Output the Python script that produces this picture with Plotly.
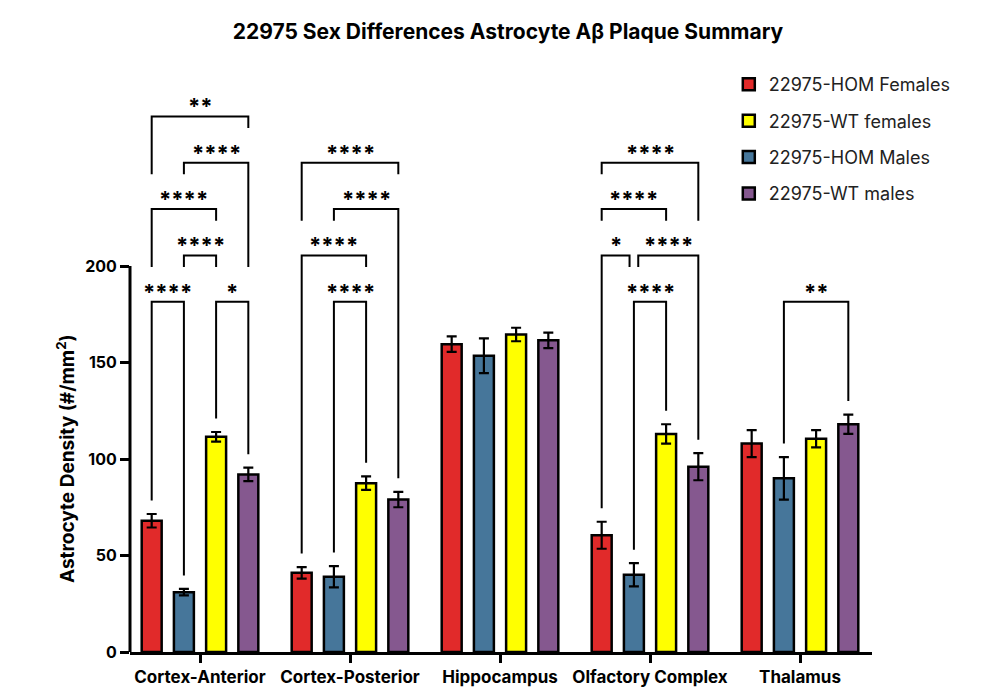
import plotly.graph_objects as go

regions = ["Cortex-Anterior", "Cortex-Posterior", "Hippocampus", "Olfactory Complex", "Thalamus"]
groups = ["22975-HOM Females", "22975-HOM Males", "22975-WT females", "22975-WT males"]

hom_f = [68, 41, 159.5, 60.5, 108]
hom_f_err = [3.5, 3, 4, 7, 7]
hom_m = [31, 39, 153.5, 40, 90]
hom_m_err = [1.7, 5.5, 9, 6, 11]
wt_f = [111.5, 87.5, 164.5, 113, 110.5]
wt_f_err = [2.5, 3.5, 3.5, 5, 4.5]
wt_m = [92, 79, 161.5, 96, 118]
wt_m_err = [3.5, 4, 4, 7, 5]

# multiple comparisons: region, bar a, bar b, stars, bracket level (0 = lowest)
comparisons = [
    (0, 0, 1, "****", 0), (0, 2, 3, "*", 0), (0, 1, 2, "****", 1),
    (0, 0, 2, "****", 2), (0, 1, 3, "****", 3), (0, 0, 3, "**", 4),
    (1, 1, 2, "****", 0), (1, 0, 2, "****", 1), (1, 1, 3, "****", 2), (1, 0, 3, "****", 3),
    (3, 1, 2, "****", 0), (3, 0, 1, "*", 1), (3, 1, 3, "****", 1),
    (3, 0, 2, "****", 2), (3, 0, 3, "****", 3),
    (4, 1, 3, "**", 0),
]

vals = [hom_f, hom_m, wt_f, wt_m]
errs = [hom_f_err, hom_m_err, wt_f_err, wt_m_err]
colors = ["#E12A2A", "#46769A", "#FFFF00", "#85588F"]
legend_rank = [1, 3, 2, 4]

BARGAP = 0.141
SLOT = (1 - BARGAP) / 4
LEVEL0 = 181.5
STEP = 24
LEG = 6
GAP = 7
NUDGE = 0.029

fig = go.Figure()
for k in range(4):
    fig.add_trace(go.Bar(
        x=list(range(len(regions))), y=vals[k], name=groups[k],
        marker=dict(color=colors[k], line=dict(color="black", width=2.5)),
        error_y=dict(type="data", array=errs[k], color="black", thickness=2.2, width=5),
        legendrank=legend_rank[k], legendgroup=groups[k],
    ))


def bar_x(r, k):
    return r + (k - 1.5) * SLOT


def leg_bottom(r, k, lvl):
    below = [LEVEL0 + c[4] * STEP + STEP - LEG for c in comparisons
             if c[0] == r and c[4] < lvl and c[1] <= k <= c[2]]
    if below:
        return max(below)
    return vals[k][r] + errs[k][r] + GAP


bx, by = [], []
for r, a, b, stars, lvl in comparisons:
    top = LEVEL0 + lvl * STEP
    xa, xb = bar_x(r, a), bar_x(r, b)
    for c in comparisons:
        if c[0] == r and c[4] == lvl:
            if c[1] == b and c[2] != b:
                xb -= NUDGE
            if c[2] == a and c[1] != a:
                xa += NUDGE
    bx += [xa, xa, xb, xb, None]
    by += [leg_bottom(r, a, lvl), top, top, leg_bottom(r, b, lvl), None]
    fig.add_annotation(x=(xa + xb) / 2, y=top, text=stars, showarrow=False,
                       yanchor="bottom", yshift=-5,
                       font=dict(family="Inter", size=22, color="black", weight="bold"))

fig.add_trace(go.Scatter(x=bx, y=by, mode="lines", line=dict(color="black", width=2),
                         showlegend=False, hoverinfo="skip"))

# y axis only runs up to 200, the brackets sit above it
fig.add_shape(type="line", xref="paper", yref="y", x0=0, x1=0, y0=0, y1=200,
              line=dict(color="black", width=3))
fig.add_annotation(xref="paper", yref="y", x=0, y=100, xanchor="center", yanchor="middle",
                   xshift=-64, textangle=-90, showarrow=False,
                   text="Astrocyte Density (#/mm<sup>2</sup>)",
                   font=dict(family="Inter", size=19, weight="bold", color="black"))

fig.update_layout(
    width=1000, height=700,
    paper_bgcolor="white", plot_bgcolor="white",
    barmode="group", bargap=BARGAP, bargroupgap=0.38,
    margin=dict(l=122, r=136, t=65, b=56),
    font=dict(family="Inter", color="black"),
    title=dict(text="22975 Sex Differences Astrocyte A\u03b2 Plaque Summary",
               x=0.5, xanchor="center", y=0.966, yref="container", yanchor="middle",
               font=dict(size=21, weight="bold", color="black")),
    legend=dict(x=0.807, y=1.012, xanchor="left", yanchor="top", tracegroupgap=10,
                font=dict(size=18, color="#222222"), bgcolor="rgba(0,0,0,0)"),
    showlegend=True,
)
fig.update_xaxes(range=[-0.4667, 4.48], tickvals=list(range(len(regions))), ticktext=regions,
                 showline=True, linecolor="black", linewidth=3, ticks="outside",
                 ticklen=8, tickwidth=3, tickcolor="black", showgrid=False, zeroline=False,
                 tickfont=dict(size=17, weight="bold", color="black"))
fig.update_yaxes(range=[0, 300], tickvals=[0, 50, 100, 150, 200], showline=False,
                 ticks="outside", ticklen=9, tickwidth=3, tickcolor="black",
                 showgrid=False, zeroline=False,
                 tickfont=dict(size=16, weight="bold", color="black"))

fig.write_html("out.html")
